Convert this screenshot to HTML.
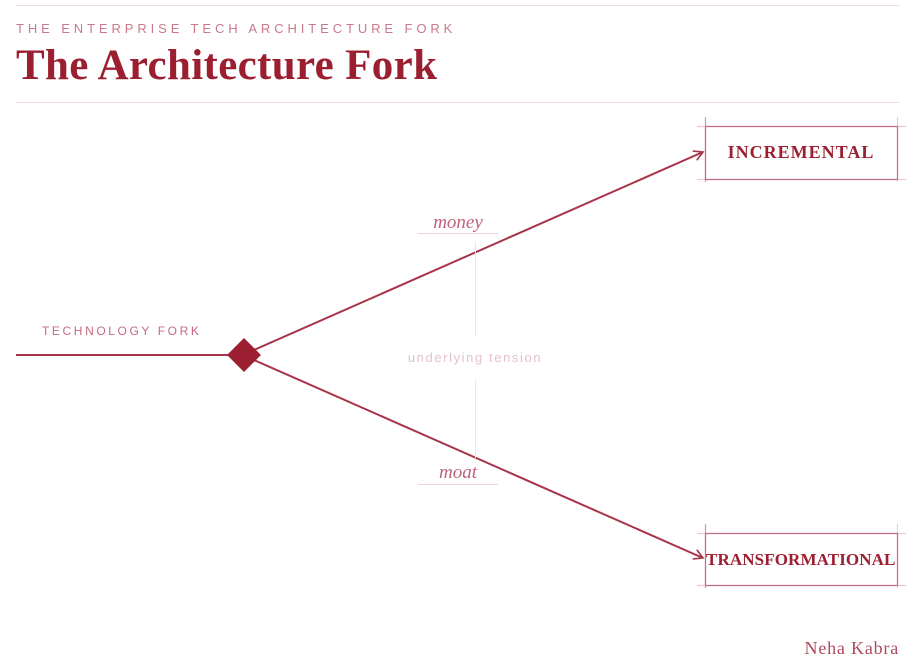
<!DOCTYPE html>
<html><head><meta charset="utf-8"><style>
html,body{margin:0;padding:0;background:#fff;width:917px;height:666px;overflow:hidden}
</style></head><body>
<svg width="917" height="666" viewBox="0 0 917 666" xmlns="http://www.w3.org/2000/svg">
<defs><marker id="a" markerWidth="12" markerHeight="12" refX="10" refY="6" orient="auto" markerUnits="userSpaceOnUse"><path d="M1,1 L10,6 L1,11" fill="none" stroke="#a8344a" stroke-width="1.6"/></marker></defs>
<line x1="16" y1="5.5" x2="900" y2="5.5" stroke="#eedde2" stroke-width="1"/>
<text x="16" y="33" font-family="Liberation Sans, sans-serif" font-size="13" letter-spacing="3.9" fill="#c9798c">THE ENTERPRISE TECH ARCHITECTURE FORK</text>
<text x="16" y="79" font-family="Liberation Serif, serif" font-weight="bold" font-size="43" fill="#9b1f30" textLength="421">The Architecture Fork</text>
<line x1="16" y1="102.5" x2="900" y2="102.5" stroke="#f0e0e5" stroke-width="1"/>
<text x="42" y="335" font-family="Liberation Sans, sans-serif" font-size="12" letter-spacing="2.6" fill="#c46a80">TECHNOLOGY FORK</text>
<line x1="16" y1="355" x2="232" y2="355" stroke="#a8344a" stroke-width="2"/>
<line x1="254" y1="350" x2="703" y2="152" stroke="#a8344a" stroke-width="2" marker-end="url(#a)"/>
<line x1="254" y1="360" x2="703" y2="558" stroke="#a8344a" stroke-width="2" marker-end="url(#a)"/>
<rect x="232" y="343" width="24" height="24" fill="#9b1f30" transform="rotate(45 244 355)"/>
<line x1="475.5" y1="242" x2="475.5" y2="335" stroke="#f3e3e7" stroke-width="1"/>
<line x1="475.5" y1="379" x2="475.5" y2="458" stroke="#f3e3e7" stroke-width="1"/>
<text x="458" y="228" text-anchor="middle" font-family="Liberation Serif, serif" font-style="italic" font-size="19" fill="#c0627a">money</text>
<line x1="418" y1="233.5" x2="498" y2="233.5" stroke="#efd6dd" stroke-width="1"/>
<text x="475" y="362" text-anchor="middle" font-family="Liberation Sans, sans-serif" font-size="13" letter-spacing="1.6" fill="#e6c1cb">underlying tension</text>
<text x="458" y="478" text-anchor="middle" font-family="Liberation Serif, serif" font-style="italic" font-size="19" fill="#c0627a">moat</text>
<line x1="418" y1="484.5" x2="498" y2="484.5" stroke="#efd6dd" stroke-width="1"/>
<g stroke-width="1.2" fill="none">
<line x1="697" y1="126.5" x2="906" y2="126.5" stroke="#edc9d2"/>
<line x1="697" y1="179.5" x2="906" y2="179.5" stroke="#edc9d2"/>
<line x1="705.5" y1="117" x2="705.5" y2="182" stroke="#d89aaa"/>
<line x1="897.5" y1="117" x2="897.5" y2="182" stroke="#edc9d2"/>
<rect x="705.5" y="126.5" width="192" height="53" stroke="#c26f84"/>
<line x1="697" y1="533.5" x2="906" y2="533.5" stroke="#edc9d2"/>
<line x1="697" y1="585.5" x2="906" y2="585.5" stroke="#edc9d2"/>
<line x1="705.5" y1="524" x2="705.5" y2="588" stroke="#d89aaa"/>
<line x1="897.5" y1="524" x2="897.5" y2="588" stroke="#edc9d2"/>
<rect x="705.5" y="533.5" width="192" height="52" stroke="#c26f84"/>
</g>
<text x="801" y="158" text-anchor="middle" font-family="Liberation Serif, serif" font-weight="bold" font-size="18" letter-spacing="1" fill="#9b1f30">INCREMENTAL</text>
<text x="801" y="565" text-anchor="middle" font-family="Liberation Serif, serif" font-weight="bold" font-size="17" letter-spacing="0.6" fill="#9b1f30" textLength="190">TRANSFORMATIONAL</text>
<text x="899" y="654" text-anchor="end" font-family="Liberation Serif, serif" font-size="18" letter-spacing="0.8" fill="#b0485e">Neha Kabra</text>
</svg>
</body></html>
